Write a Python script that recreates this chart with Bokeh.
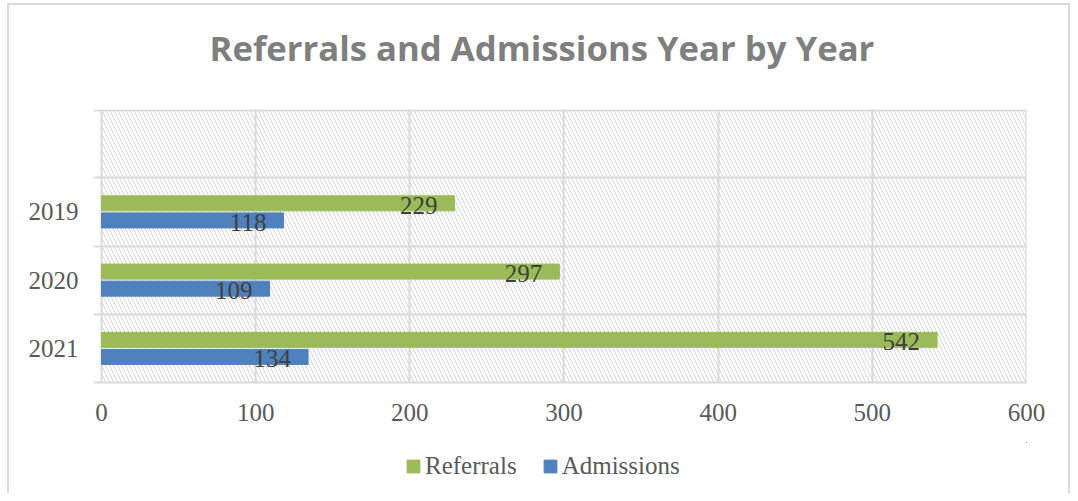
from bokeh.plotting import figure
from bokeh.layouts import column
from bokeh.models import (FactorRange, Range1d, ColumnDataSource, FixedTicker,
                          BoxAnnotation, Legend, LegendItem, Title)
from bokeh.transform import dodge
from bokeh.embed import file_html
from bokeh.resources import INLINE
from bokeh.core.properties import value

title_text = "Referrals and Admissions Year by Year"
years = ["2019", "2020", "2021"]
referrals = [229, 297, 542]
admissions = [118, 109, 134]
axis_factors = ["2021", "2020", "2019", ""]  # bottom to top; top band is empty
x_ticks = [0, 100, 200, 300, 400, 500, 600]
series_names = ["Referrals", "Admissions"]
series_colors = ["#9BBB59", "#4F81BD"]

SERIF = "Liberation Serif"
GRID = "#d9d9d9"
LINE = "linear-gradient(#d9d9d9, #d9d9d9)"

src = ColumnDataSource(dict(
    year=years, ref=referrals, adm=admissions,
    ref_lbl=[str(v) for v in referrals], adm_lbl=[str(v) for v in admissions]))

p = figure(frame_width=933, frame_height=273,
           y_range=FactorRange(factors=axis_factors, range_padding=0),
           x_range=Range1d(-5.19, 600.02),
           output_backend="svg", toolbar_location=None,
           min_border_left=93, min_border_right=44,
           min_border_top=109, min_border_bottom=60)

p.background_fill_color = "white"
p.border_fill_color = None
p.outline_line_color = None
p.styles = {"background": (f"{LINE} 7px 3px / 2px 100% no-repeat, "
                           f"{LINE} 7px 3px / 1063px 2px no-repeat, "
                           f"{LINE} 1068px 3px / 2px 100% no-repeat, white")}

# hatched plot-area background
hatch = BoxAnnotation(left=0, right=600, fill_color=None, line_color=None,
                      hatch_pattern="\\", hatch_color="#d4d4d4",
                      hatch_scale=8, hatch_weight=1, level="image")
p.add_layout(hatch)

# grids: vertical at value ticks, horizontal at category band edges
p.xgrid.ticker = FixedTicker(ticks=x_ticks)
p.xgrid.grid_line_color = GRID
p.xgrid.grid_line_width = 2
p.ygrid.visible = False
n_bands = len(axis_factors)
band_edges = [float(i) for i in range(1, n_bands)] + [n_bands - 0.01]
p.hspan(y=band_edges, line_color=GRID, line_width=2, level="underlay")

# bars
r_ref = p.hbar(y=dodge("year", 0.125, range=p.y_range), left=0, right="ref",
               height=0.22, color=series_colors[0], source=src)
r_adm = p.hbar(y=dodge("year", -0.125, range=p.y_range), left=0, right="adm",
               height=0.22, color=series_colors[1], source=src)

# data labels
for fld, lbl, off in (("ref", "ref_lbl", 0.125), ("adm", "adm_lbl", -0.125)):
    p.text(x=fld, y=dodge("year", off, range=p.y_range), text=lbl,
           text_align="right", text_baseline="middle", x_offset=-17, y_offset=2,
           text_font=value(SERIF), text_font_size="25px", text_color="#404040",
           source=src)

# axes
xa = p.xaxis[0]
xa.ticker = FixedTicker(ticks=x_ticks)
xa.axis_line_color = GRID
xa.axis_line_width = 2
xa.major_tick_line_color = None
xa.minor_tick_line_color = None
xa.major_tick_out = 0
xa.major_tick_in = 0
xa.major_label_standoff = 21
xa.major_label_text_font = SERIF
xa.major_label_text_font_size = "25px"
xa.major_label_text_color = "#595959"

ya = p.yaxis[0]
ya.axis_line_color = None
ya.major_tick_line_color = None
ya.minor_tick_line_color = None
ya.major_tick_out = 0
ya.major_tick_in = 0
ya.major_label_standoff = 15
ya.major_label_text_font = SERIF
ya.major_label_text_font_size = "25px"
ya.major_label_text_color = "#595959"

# title (a small spacer slot keeps it clear of the plot area)
spacer = Title(text=" ", text_font_size="12px", standoff=18)
p.add_layout(spacer, "above")
main_title = Title(text=title_text, align="left", offset=116,
                   text_font="Open Sans", text_font_style="bold",
                   text_font_size="34.7px", text_color="#7f7f7f", standoff=10)
p.add_layout(main_title, "above")

# legend strip below the chart (proxy bars lie outside its 0..1 view)
leg = figure(width=1070, height=51, x_range=Range1d(0, 1), y_range=Range1d(0, 1),
             x_axis_type=None, y_axis_type=None,
             output_backend="svg", toolbar_location=None,
             min_border=0, min_border_left=0, min_border_right=0,
             min_border_top=0, min_border_bottom=0)
leg.grid.visible = False
leg.outline_line_color = None
leg.background_fill_color = None
leg.border_fill_color = None
leg.styles = {"background": (f"{LINE} 7px 0 / 2px 100% no-repeat, "
                             f"{LINE} 1068px 0 / 2px 100% no-repeat, white")}
lr_ref = leg.hbar(y="ref", left="ref", right="ref", height=0.5,
                  color=series_colors[0], source=src)
lr_adm = leg.hbar(y="adm", left="adm", right="adm", height=0.5,
                  color=series_colors[1], source=src)
legend = Legend(items=[LegendItem(label=series_names[0], renderers=[lr_ref]),
                       LegendItem(label=series_names[1], renderers=[lr_adm])],
                orientation="horizontal", location=(312, 13),
                glyph_width=16, glyph_height=16, label_standoff=4, spacing=25,
                padding=0, margin=0, border_line_color=None,
                background_fill_alpha=0,
                label_text_font=SERIF, label_text_font_size="25px",
                label_text_color="#595959")
leg.add_layout(legend)

layout = column(p, leg, spacing=0)
open("out.html", "w").write(file_html(layout, INLINE))
